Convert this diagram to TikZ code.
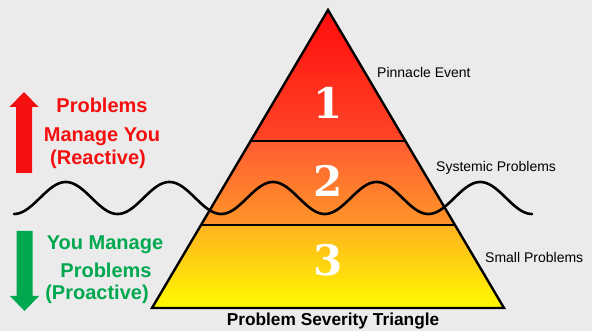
\documentclass[tikz,border=0pt]{standalone}
\usepackage{fontspec}
\setmainfont{Liberation Sans}
\newfontfamily\numfont{DejaVu Serif}
\definecolor{bg}{RGB}{235,235,235}
\definecolor{redtxt}{RGB}{245,15,15}
\definecolor{greentxt}{RGB}{0,168,80}
\definecolor{tA}{RGB}{255,12,12}
\definecolor{tB}{RGB}{255,70,40}
\definecolor{tC}{RGB}{255,92,50}
\definecolor{tD}{RGB}{255,150,40}
\definecolor{tE}{RGB}{255,178,30}
\definecolor{tF}{RGB}{255,250,0}
\begin{document}
\begin{tikzpicture}[x=1pt,y=-1pt,
  lbl/.style={anchor=base,inner sep=0pt,font=\fontsize{14}{16}\selectfont},
  redl/.style={anchor=base,inner sep=0pt,text=redtxt,font=\bfseries\fontsize{20}{24}\selectfont},
  greenl/.style={anchor=base,inner sep=0pt,text=greentxt,font=\bfseries\fontsize{20}{24}\selectfont},
  num/.style={inner sep=0pt,text=white,font=\numfont\bfseries\fontsize{42}{42}\selectfont},
  tierline/.style={line width=2pt,black},
  wave/.style={line width=2.6pt,black,line cap=round}]
\fill[bg] (0,0) rectangle (592,331);
\useasboundingbox (0,0) rectangle (592,331);
% triangle coordinates
\coordinate (apex) at (328,10);
\coordinate (l1) at (250.6,141);
\coordinate (r1) at (405.4,141);
\coordinate (l2) at (201,225);
\coordinate (r2) at (455,225);
\coordinate (bl) at (152,308);
\coordinate (br) at (504,308);
% tiers
\shade[top color=tA,bottom color=tB] (apex) -- (r1) -- (l1) -- cycle;
\shade[top color=tC,bottom color=tD] (l1) -- (r1) -- (r2) -- (l2) -- cycle;
\shade[top color=tE,bottom color=tF] (l2) -- (r2) -- (br) -- (bl) -- cycle;
\draw[tierline] (l1) -- (r1);
\draw[tierline] (l2) -- (r2);
\draw[line width=2.4pt,line join=miter] (apex) -- (br) -- (bl) -- cycle;
% numbers
\node[num] (n1) at (328,103) {1};
\node[num] (n2) at (328,181) {2};
\node[num] (n3) at (328,260) {3};
% wave
\draw[wave] plot[domain=14:532,samples=300,smooth] (\x,{198+16*cos(3.4749*(\x-14))});
% arrows
\fill[redtxt] (24,92) -- (38.5,107) -- (32,107) -- (32,173) -- (16,173) -- (16,107) -- (9.5,107) -- cycle;
\fill[greentxt] (24.5,311) -- (39,296) -- (32.5,296) -- (32.5,231) -- (16.5,231) -- (16.5,296) -- (10,296) -- cycle;
% left labels
\node[redl] (r1t) at (102,113) {Problems};
\node[redl] (r2t) at (102,142) {Manage You};
\node[redl] (r3t) at (98,165) {(Reactive)};
\node[greenl] (g1t) at (105,250) {You Manage};
\node[greenl] (g2t) at (106,277) {Problems};
\node[greenl] (g3t) at (97,300) {(Proactive)};
% right labels
\node[lbl,anchor=base west] (pe) at (377,78) {Pinnacle Event};
\node[lbl,anchor=base west] (sp) at (436,172) {Systemic Problems};
\node[lbl,anchor=base west] (smp) at (485,262) {Small Problems};
% title
\node[anchor=base,inner sep=0pt,font=\bfseries\fontsize{17.3}{20}\selectfont] (title) at (333,325) {Problem Severity Triangle};
\end{tikzpicture}
\end{document}
